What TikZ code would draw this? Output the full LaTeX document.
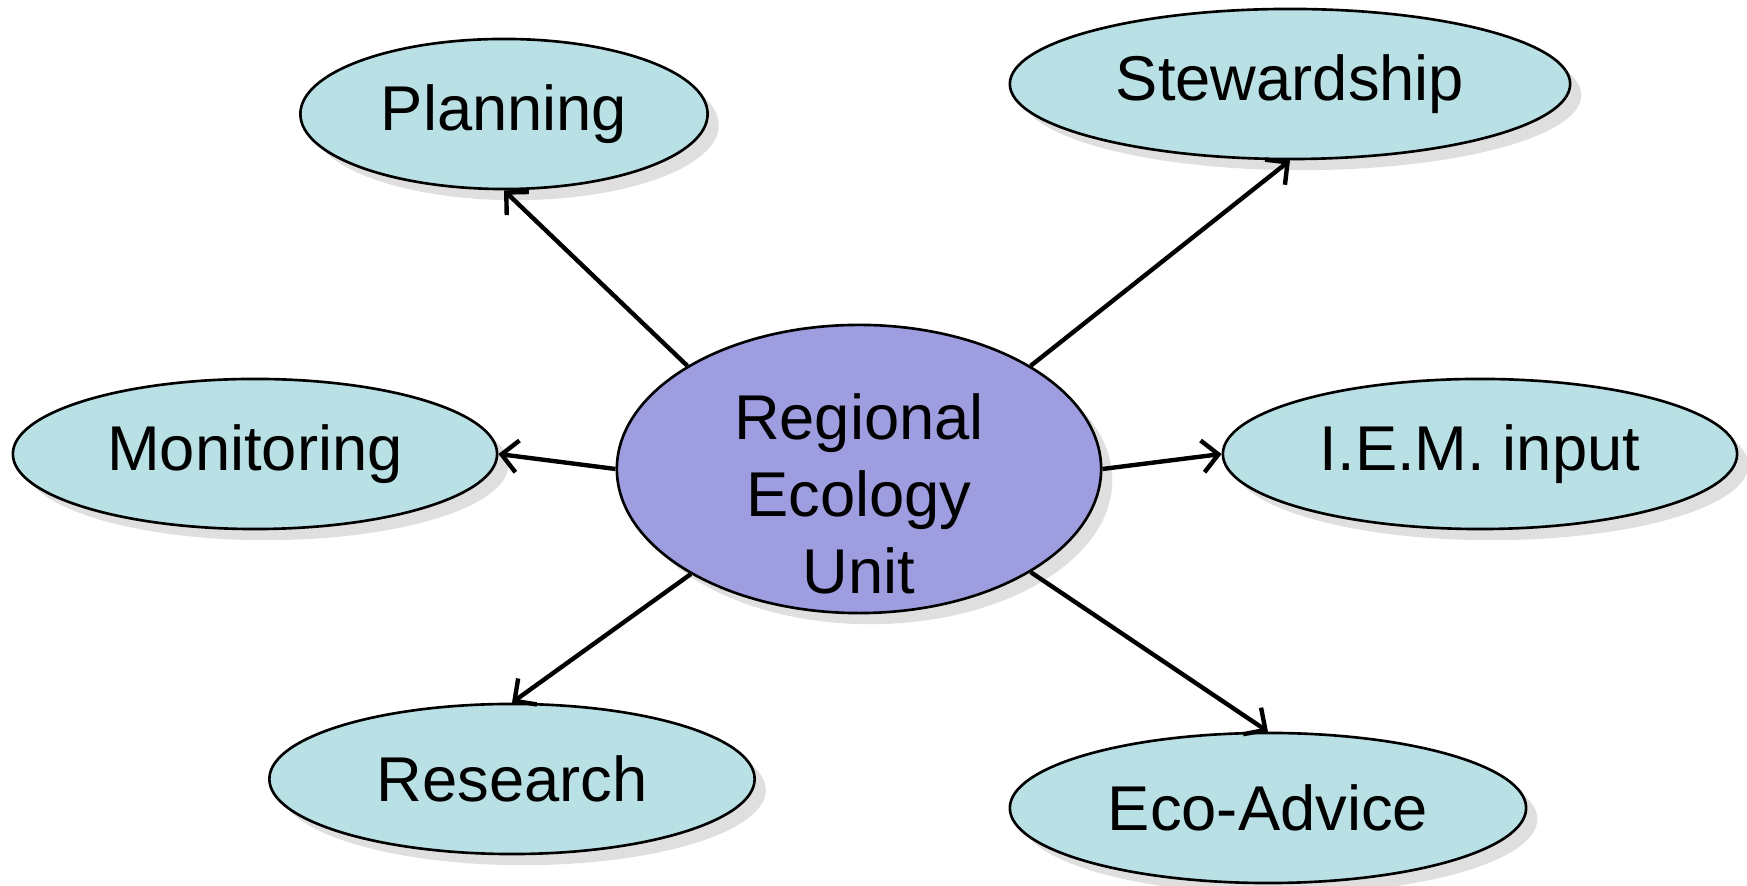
\documentclass[tikz,border=0pt]{standalone}
\usepackage{fontspec}
\setmainfont{Liberation Sans}
\usetikzlibrary{shapes.geometric, arrows.meta, positioning, shadows}
\definecolor{paleteal}{RGB}{185,224,228}
\definecolor{unitblue}{RGB}{157,157,223}

\begin{document}
\begin{tikzpicture}[x=0.01cm, y=-0.01cm]
        \tikzstyle{topic} = [ellipse, draw=black, line width=0.75pt, fill=paleteal, inner sep=0pt,
            minimum height=1.5cm, font=\fontsize{18}{22}\selectfont,
            drop shadow={opacity=0.25, shadow xshift=0.6ex, shadow yshift=-0.6ex}]
        \tikzstyle{hub} = [topic, fill=unitblue, minimum width=4.84cm, minimum height=2.88cm]
        \tikzstyle{link} = [line width=1.25pt, -{Straight Barb[length=1.6mm, width=3.2mm]}]

        \useasboundingbox (0,0) rectangle (1747,886);

        \node[hub, label={[align=center, font=\fontsize{18}{22}\selectfont, yshift=-0.25cm]center:Regional\\Ecology\\Unit}] (unit) at (859,469) {};

        \node[topic, minimum width=4.07cm] (plan) at (504,114) {Planning};
        \node[topic, minimum width=5.60cm] (stew) at (1290,84) {Stewardship};
        \node[topic, minimum width=4.84cm] (mon) at (255,454) {Monitoring};
        \node[topic, minimum width=5.14cm] (iem) at (1480,454) {I.E.M. input};
        \node[topic, minimum width=4.85cm] (res) at (512,779) {Research};
        \node[topic, minimum width=5.16cm] (eco) at (1268,808) {Eco-Advice};

        \draw[link] (unit.149) -- (plan.south);
        \draw[link] (unit.31) -- (stew.south);
        \draw[link] (unit.180) -- (mon.east);
        \draw[link] (unit.0) -- (iem.west);
        \draw[link] (unit.-148) -- (res.north);
        \draw[link] (unit.-31) -- (eco.north);

    \end{tikzpicture}
\end{document}
